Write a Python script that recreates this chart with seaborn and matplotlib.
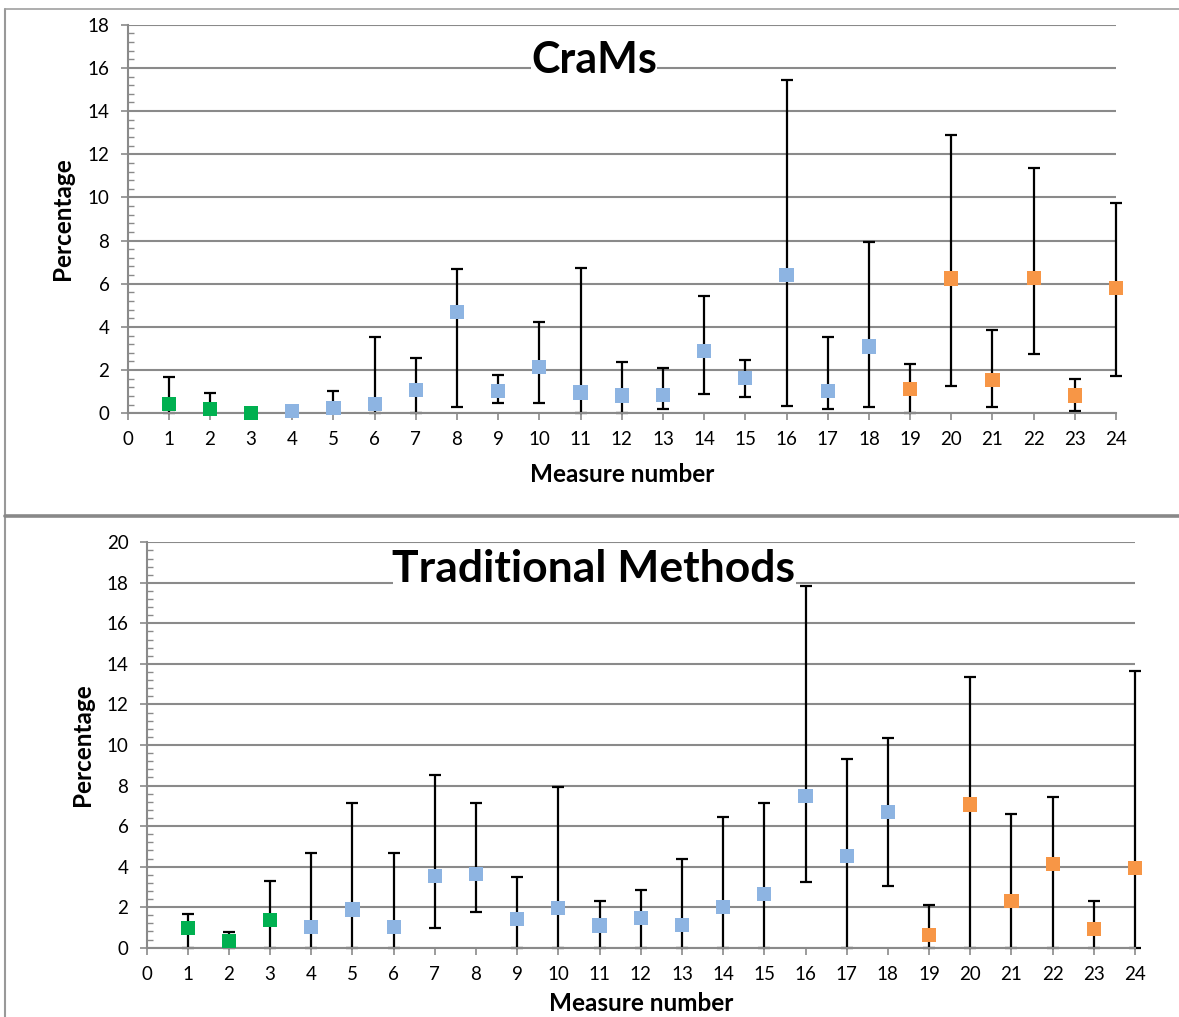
import numpy as np
import pandas as pd
import matplotlib
matplotlib.use("Agg")
import matplotlib.pyplot as plt
from matplotlib.ticker import MultipleLocator
from matplotlib.lines import Line2D
import seaborn as sns

# ---------------- data ----------------
measures = list(range(1, 25))
groups = ["g1"] * 3 + ["g2"] * 15 + ["g3"] * 6

cram_mean = [0.43, 0.20, 0.02, 0.10, 0.26, 0.43, 1.08, 4.71, 1.03, 2.16, 0.96, 0.82,
             0.85, 2.90, 1.65, 6.42, 1.05, 3.09, 1.14, 6.24, 1.54, 6.27, 0.82, 5.82]
cram_low = [0.00, 0.00, 0.02, 0.10, 0.00, 0.00, 0.00, 0.31, 0.46, 0.49, 0.00, 0.00,
            0.19, 0.90, 0.76, 0.34, 0.22, 0.31, 0.00, 1.25, 0.31, 2.75, 0.11, 1.73]
cram_high = [1.70, 0.93, 0.02, 0.10, 1.05, 3.52, 2.55, 6.67, 1.76, 4.25, 6.75, 2.39,
             2.10, 5.42, 2.45, 15.44, 3.52, 7.92, 2.28, 12.87, 3.86, 11.35, 1.57, 9.74]

trad_mean = [0.99, 0.33, 1.38, 1.02, 1.88, 1.02, 3.55, 3.65, 1.41, 1.97, 1.09, 1.48,
             1.12, 2.02, 2.65, 7.50, 4.54, 6.71, 0.64, 7.06, 2.32, 4.14, 0.94, 3.95]
trad_low = [0.00, 0.00, 0.00, 0.00, 0.00, 0.00, 0.97, 1.74, 0.00, 0.00, 0.00, 0.00,
            0.00, 0.00, 0.00, 3.22, 0.00, 3.03, 0.00, 0.00, 0.00, 0.00, 0.00, 0.00]
trad_high = [1.68, 0.76, 3.29, 4.69, 7.14, 4.69, 8.50, 7.14, 3.50, 7.91, 2.32, 2.83,
             4.38, 6.46, 7.14, 17.85, 9.31, 10.35, 2.10, 13.34, 6.60, 7.42, 2.30, 13.65]

titles = ["CraMs", "Traditional Methods"]
x_label = "Measure number"
y_label = "Percentage"
y_max = [18, 20]
palette = {"g1": "#00B050", "g2": "#8DB4E2", "g3": "#F79646"}

# ---------------- style ----------------
sns.set_theme(style="white")
plt.rcParams["font.family"] = ["Lato", "DejaVu Sans"]

W, H = 1179, 1017
fig = plt.figure(figsize=(W / 100, H / 100), dpi=100)

def px_axes(left, right, top, bottom):
    return [left / W, (H - bottom) / H, (right - left) / W, (bottom - top) / H]

ax_px = [(127.5, 1116, 24.7, 413.3), (146.5, 1135, 542.3, 947.7)]
xlabel_baseline = [482, 1011]
title_baseline = [73, 581.5]
title_size = [31, 32]

grid_c = "#8a8a8a"

for i, (mean, low, high) in enumerate([(cram_mean, cram_low, cram_high),
                                       (trad_mean, trad_low, trad_high)]):
    l, r, t, b = ax_px[i]
    ax = fig.add_axes(px_axes(l, r, t, b))
    df = pd.DataFrame({"measure": measures, "value": mean, "low": low,
                       "high": high, "group": groups})
    yerr = np.vstack([df["value"] - df["low"], df["high"] - df["value"]])
    ax.errorbar(df["measure"], df["value"], yerr=yerr, fmt="none", ecolor="black",
                elinewidth=1.6, capsize=4.2, capthick=1.6, zorder=2, clip_on=False)
    sns.scatterplot(data=df, x="measure", y="value", hue="group", palette=palette,
                    marker="s", s=105, linewidth=0, legend=False, ax=ax,
                    zorder=3, clip_on=False)

    ax.set_xlim(0, 24)
    ax.set_ylim(0, y_max[i])
    ax.xaxis.set_major_locator(MultipleLocator(1))
    ax.yaxis.set_major_locator(MultipleLocator(2))
    ax.yaxis.set_minor_locator(MultipleLocator(0.4))
    ax.grid(axis="y", which="major", color=grid_c, linewidth=1.5, zorder=0)
    ax.set_axisbelow(True)
    for s in ["top", "right"]:
        ax.spines[s].set_visible(False)
    for s in ["left", "bottom"]:
        ax.spines[s].set_color(grid_c)
        ax.spines[s].set_linewidth(1.5)
    ax.tick_params(axis="y", which="major", direction="out", length=5, width=1.2,
                   color=grid_c, labelsize=13.5, pad=8, left=True, labelcolor="black")
    ax.tick_params(axis="y", which="minor", direction="in", length=4, width=1.0,
                   color=grid_c, left=True)
    ax.tick_params(axis="x", which="major", direction="out", length=5, width=1.2,
                   color=grid_c, labelsize=13.5, pad=8, bottom=True, labelcolor="black")
    ax.set_xlabel("")
    ax.set_ylabel("")
    ah = b - t
    aw = r - l
    ax.text(0.5, (b - xlabel_baseline[i]) / ah, x_label,
            transform=ax.transAxes, ha="center", va="baseline", fontsize=17.5,
            fontweight="bold", color="black")
    ax.text(-64.5 / aw, 0.5, y_label, transform=ax.transAxes,
            rotation=90, ha="center", va="center", fontsize=17.5,
            fontweight="bold", color="black")
    ax.text((594 - l) / aw, (b - title_baseline[i]) / ah, titles[i],
            transform=ax.transAxes, ha="center", va="baseline", fontsize=title_size[i],
            fontweight="bold", color="black", zorder=4,
            bbox=dict(facecolor="white", edgecolor="none", pad=0))

# panel borders
fig.add_artist(Line2D([5 / W, 5 / W], [0, (H - 9) / H], color="#999999", lw=1.5))
fig.add_artist(Line2D([5 / W, 1], [(H - 9) / H, (H - 9) / H], color="#a0a0a0", lw=1.2))
fig.add_artist(Line2D([5 / W, 1], [(H - 515.5) / H, (H - 515.5) / H], color="#888888", lw=2.6))

fig.savefig("out.png", dpi=100)
